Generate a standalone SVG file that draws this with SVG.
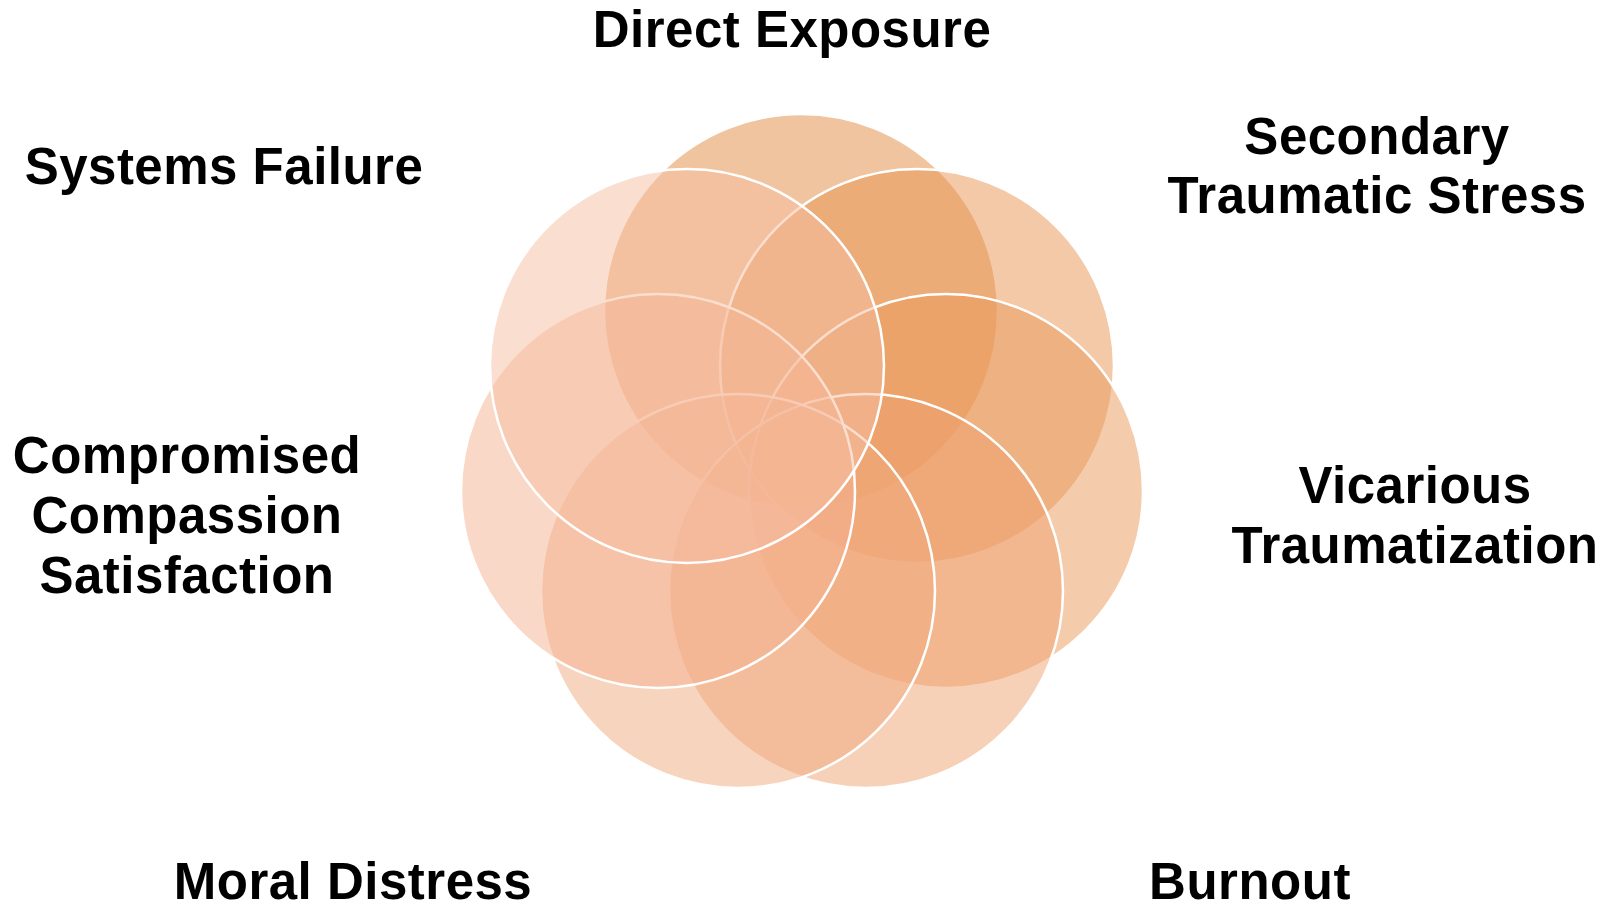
<svg xmlns="http://www.w3.org/2000/svg" width="1619" height="907" viewBox="0 0 1619 907">
<style>
.c{fill-opacity:0.5;stroke:#fff;stroke-width:2.5}
.t{font-family:"Liberation Sans",Arial,sans-serif;font-weight:bold;font-size:51px;letter-spacing:0.5px;fill:#000;text-anchor:middle}
</style>
<rect width="1619" height="907" fill="#fff"/>
<g id="direct-exposure"><circle class="c" cx="801" cy="311" r="197" fill="#E1893F"/><text class="t" x="792" y="47">Direct Exposure</text></g>
<g id="secondary-traumatic-stress"><circle class="c" cx="917" cy="366" r="197" fill="#E79351"/><text class="t" x="1377" y="154">Secondary</text><text class="t" x="1377" y="213">Traumatic Stress</text></g>
<g id="vicarious-traumatization"><circle class="c" cx="946" cy="491" r="197" fill="#E99959"/><text class="t" x="1415" y="503">Vicarious</text><text class="t" x="1415" y="563">Traumatization</text></g>
<g id="burnout"><circle class="c" cx="866" cy="591" r="197" fill="#EFA171"/><text class="t" x="1250" y="899">Burnout</text></g>
<g id="moral-distress"><circle class="c" cx="738" cy="591" r="197" fill="#EFA97D"/><text class="t" x="353" y="899">Moral Distress</text></g>
<g id="compromised-compassion-satisfaction"><circle class="c" cx="658" cy="491" r="197" fill="#F5B191"/><text class="t" x="187" y="473">Compromised</text><text class="t" x="187" y="533">Compassion</text><text class="t" x="187" y="593">Satisfaction</text></g>
<g id="systems-failure"><circle class="c" cx="687" cy="366" r="197" fill="#F5BDA1"/><text class="t" x="224" y="184">Systems Failure</text></g>
<g id="connectors"></g>
</svg>
